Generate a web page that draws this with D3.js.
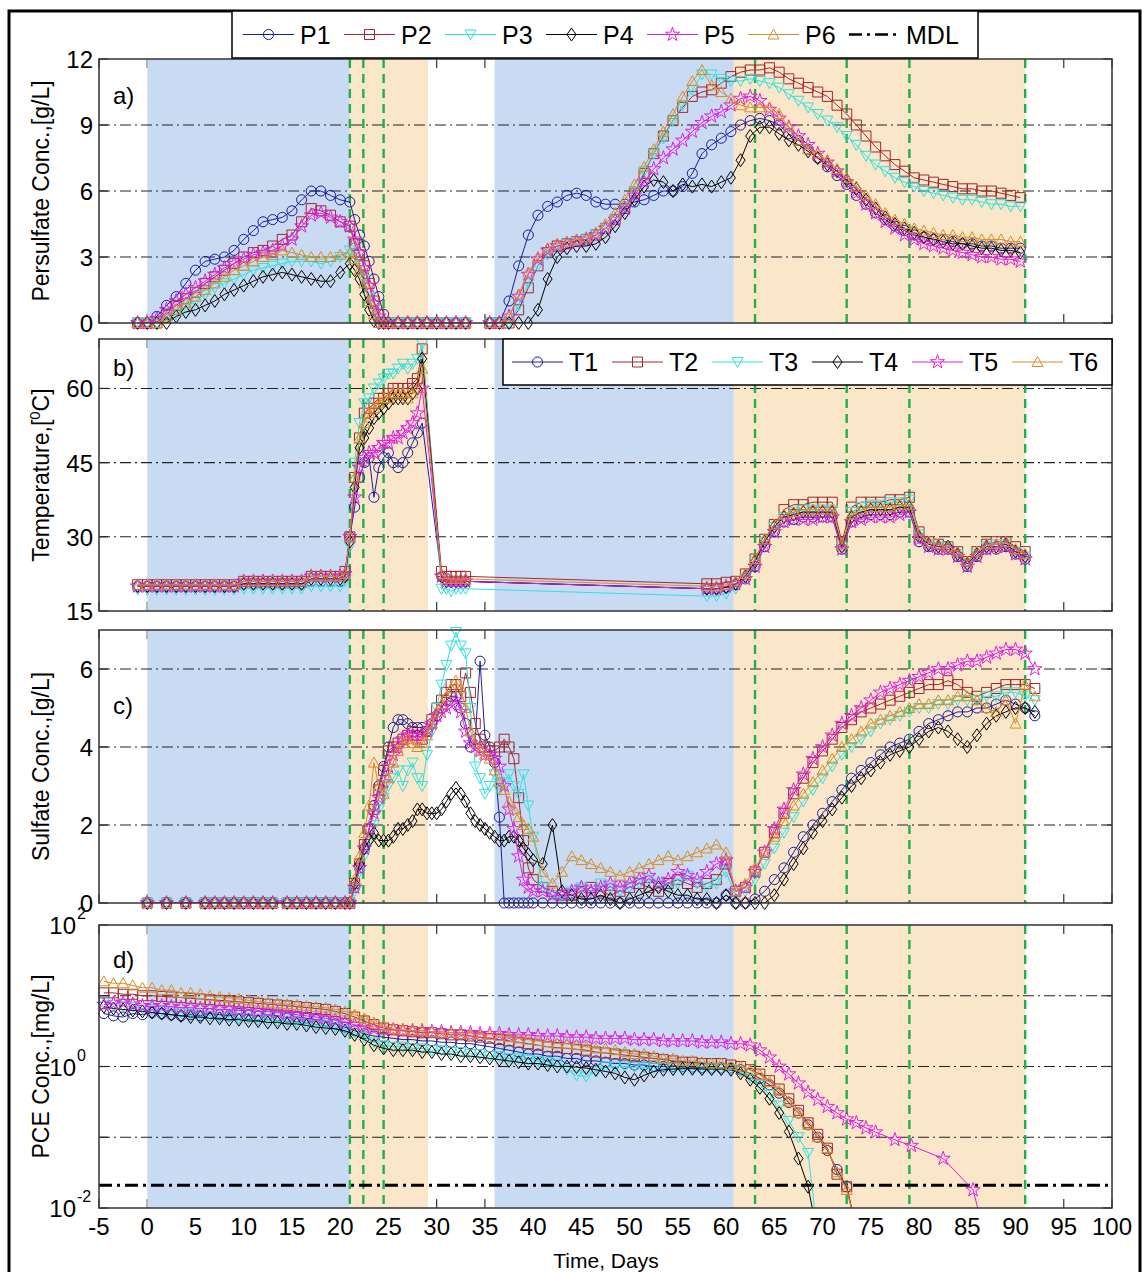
<!DOCTYPE html>
<html>
<head>
<meta charset="utf-8">
<script src="https://cdn.jsdelivr.net/npm/d3@7"></script>
<style>
  body { margin: 0; background: #fff; }
</style>
</head>
<body>
<script>
// ---- data ----
const dayTicks = [-5,0,5,10,15,20,25,30,35,40,45,50,55,60,65,70,75,80,85,90,95,100];
const blueSpans = [[0,21],[36,60.8]];
const peachSpans = [[21,29.1],[60.8,91]];
const eventDays = [21,22.4,24.5,63,72.5,79,91];
const mdl = 0.021;

// a) persulfate, g/L  (34.5 is the gap between the two runs)
const tA = [-1,0,1,2,3,4,5,6,7,8,9,10,11,12,13,14,15,16,17,18,19,20,21,21.5,22,22.5,23,23.5,24,24.5,25,26,27,28,29,30,31,32,33,34.5,
  35.5,36.5,37.5,38.5,39.5,40.5,41.5,42.5,43.5,44.5,45.5,46.5,47.5,48.5,49.5,50.5,51.5,52.5,53.5,54.5,55.5,56.5,57.5,58.5,59.5,60.5,
  61.5,62.5,63.5,64.5,65.5,66.5,67.5,68.5,69.5,70.5,71.5,72.5,73.5,74.5,75.5,76.5,77.5,78.5,79.5,80.5,81.5,82.5,83.5,84.5,85.5,86.5,87.5,88.5,89.5,90.5];
const persP1 = [0,0,0.3,0.8,1.2,1.8,2.4,2.8,2.9,3.0,3.3,3.8,4.2,4.6,4.7,4.8,5.1,5.6,6.0,6.0,5.8,5.6,5.5,4.7,4.0,3.5,2.8,2.0,1.2,0.4,0,0,0,0,0,0,0,0,0,null,
  0,0,1.0,2.6,4.0,4.9,5.3,5.5,5.8,5.9,5.8,5.5,5.4,5.4,5.4,5.5,5.6,5.8,6.0,6.0,6.2,6.8,7.7,8.1,8.4,8.7,9.0,9.2,9.3,9.2,
  9.0,8.6,8.3,7.9,7.5,7.1,6.7,6.3,5.8,5.4,5.0,4.7,4.4,4.2,4.0,3.9,3.8,3.8,3.7,3.6,3.6,3.5,3.5,3.4,3.4,3.4];
const persP2 = [0,0,0,0.4,0.8,1.1,1.4,1.8,2.1,2.4,2.7,3.0,3.2,3.3,3.5,3.8,4.0,4.6,5.2,5.1,4.9,4.6,4.4,3.6,3.1,2.6,1.8,1.0,0.4,0,0,0,0,0,0,0,0,0,0,null,
  0,0,0,0.6,1.6,2.6,3.2,3.5,3.6,3.7,3.8,4.0,4.3,4.7,5.2,5.9,6.8,7.7,8.5,9.2,9.8,10.3,10.5,10.6,10.9,11.2,11.4,11.5,11.5,11.6,
  11.4,11.1,10.9,10.7,10.5,10.3,9.9,9.5,9.0,8.5,8.0,7.6,7.2,6.9,6.6,6.5,6.4,6.3,6.2,6.1,6.1,6.0,6.0,5.9,5.8,5.7];
const persP3 = [0,0,0,0.2,0.4,0.7,1.0,1.3,1.6,1.8,2.0,2.2,2.4,2.5,2.6,2.7,2.8,2.8,2.8,2.7,2.8,3.0,3.3,3.2,2.6,2.0,1.2,0.5,0.1,0,0,0,0,0,0,0,0,0,0,null,
  0,0,0,0.8,1.8,2.6,3.1,3.4,3.6,3.7,3.8,4.0,4.3,4.7,5.3,6.0,6.9,7.7,8.4,9.2,9.9,10.6,11.3,11.3,11.1,11.0,11.0,11.1,11.0,10.9,
  10.7,10.4,10.1,9.8,9.5,9.2,8.9,8.5,8.1,7.6,7.2,6.9,6.6,6.4,6.2,6.0,5.9,5.8,5.7,5.6,5.6,5.5,5.4,5.4,5.3,5.3];
const persP4 = [0,0,0,0,0.3,0.5,0.6,0.8,1.0,1.3,1.5,1.7,1.9,2.1,2.2,2.3,2.2,2.1,2.0,1.9,1.9,2.3,2.7,2.4,2.0,1.3,0.6,0.1,0,0,0,0,0,0,0,0,0,0,0,null,
  0,0,0,0,0,0.6,2.0,3.0,3.4,3.5,3.5,3.6,3.9,4.4,5.0,5.6,6.2,6.5,6.4,6.0,6.3,6.2,6.3,6.2,6.4,6.6,7.4,8.5,8.9,8.9,
  8.6,8.3,8.1,7.8,7.5,7.2,6.9,6.5,6.1,5.6,5.2,4.8,4.5,4.3,4.1,3.9,3.8,3.7,3.6,3.6,3.5,3.4,3.4,3.3,3.3,3.2];
const persP5 = [0,0,0.2,0.6,1.0,1.3,1.6,1.9,2.2,2.5,2.7,2.9,3.1,3.2,3.3,3.5,3.8,4.4,4.9,5.0,4.8,4.6,4.4,3.8,3.2,2.5,1.7,0.9,0.3,0,0,0,0,0,0,0,0,0,0,null,
  0,0,0.3,1.2,2.2,2.9,3.3,3.5,3.6,3.7,3.8,4.0,4.3,4.7,5.2,5.8,6.4,7.0,7.5,7.9,8.3,8.7,9.1,9.4,9.6,9.9,10.2,10.3,10.1,9.7,
  9.3,8.9,8.5,8.1,7.7,7.3,6.9,6.4,5.9,5.4,5.0,4.6,4.3,4.0,3.8,3.6,3.5,3.4,3.3,3.2,3.1,3.0,3.0,2.9,2.9,2.8];
const persP6 = [0,0,0,0.3,0.6,0.9,1.2,1.5,1.8,2.1,2.4,2.6,2.8,3.0,3.1,3.3,3.2,3.1,3.0,3.0,3.0,3.1,3.2,2.9,2.4,1.8,1.0,0.4,0,0,0,0,0,0,0,0,0,0,0,null,
  0,0,0.3,1.3,2.3,3.0,3.4,3.6,3.7,3.8,3.9,4.1,4.5,5.0,5.6,6.3,7.1,7.9,8.7,9.5,10.3,11.0,11.5,10.8,10.5,10.2,9.9,9.8,9.8,9.8,
  9.5,8.9,8.3,7.9,7.7,7.4,7.0,6.6,6.2,5.8,5.4,5.0,4.7,4.5,4.3,4.2,4.1,4.0,4.0,3.9,3.9,3.8,3.8,3.8,3.7,3.7];

// b) temperature, degC
const tB = [-1,0,1,2,3,4,5,6,7,8,9,10,11,12,13,14,15,16,17,18,19,20,
  20.5,21,21.5,22,22.5,23,23.5,24,24.5,25,25.5,26,26.5,27,27.5,28,28.5,
  30.5,31,31.5,32,32.5,33,
  58,59,60,61,62,63,64,65,66,67,68,69,70,71,72,73,74,75,76,77,78,79,80,81,82,83,84,85,86,87,88,89,90,91];
const tempT1 = [20,20,20,20,20,20,20,20,20,20,20,20.5,20.5,20.5,20.5,20.5,20.5,20.5,21,21,21,21,
  22,30,36,42,45,46,38,44,46,47,45,44,45,47,49,51,53,
  22,21.5,21,21,21,21,
  19.5,19.5,19.8,20.3,21.5,24,28,31,33,33.5,34,34,34,34,27.5,33,34,34.5,34.5,34.5,35,35,29,28,27.5,27.5,26,24,26,27.5,27.5,28,26.5,25.5];
const tempT2 = [20.3,20.3,20.3,20.3,20.3,20.3,20.3,20.3,20.3,20.3,20.3,21,21,21,21,21,21,21,22,22,22,22,
  23,30,42,50,55,56,57,58,58,59,60,60,60,60,61,62,68,
  23,22,22,22,22,22,
  20.5,20.5,20.8,21,22.5,25.5,29.5,32.5,35.5,36.5,36.5,37,37,37,29,36,37,37,37,37.5,37.5,38,31,29,28.5,28,27,25,27,28.5,29,29,28,27];
const tempT3 = [19.3,19.3,19.3,19.3,19.3,19.3,19.3,19.3,19.3,19.3,19.3,19.5,19.5,19.5,19.5,19.5,19.5,19.5,20,20,20,20,
  21,28,45,53,57,58,60,61,62,63,63,64,65,64,65,66,69,
  19.5,19.5,19,19.5,19.5,19.5,
  18,18,18.5,19.5,21.5,25,29,32,34,35,35.5,35.5,35.5,35.5,28,35,36,36.5,36.5,37,37,37.5,30.5,28.5,28,28,26.5,24.5,26.5,28,28.5,28.5,27,26];
const tempT4 = [20,20,20,20,20,20,20,20,20,20,20,20.5,20.5,20.5,20.5,20.5,20.5,20.5,21.5,21.5,21.5,21.5,
  22,29,40,48,50,52,54,55,56,57,58,58,58,58,59,60,66,
  22,21,21,21,21,21,
  19.5,19.5,19.8,20.5,22,25,29,32,34,34.5,35,35,35,35,28,34,35,35.5,35.5,35.5,36,36,30,28.5,28,28,26.5,24.5,26.5,28,28,28.5,27,26];
const tempT5 = [20,20,20,20,20,20,20,20,20,20,20,21,21,21,21,21,21,21,22,22,22,22,
  22.5,30,38,44,46,47,47,48,49,49,50,50,51,52,53,55,60,
  22,21,21,21,21,21,
  19.5,19.5,20,20.5,21.5,24,28,31,33,33.5,33.5,33.5,34,34,27.5,33,33.5,34,34,34,34.5,35,29.5,28,27.5,27.5,26,24,26,27.5,28,28,26.5,25.5];
const tempT6 = [20.3,20.3,20.3,20.3,20.3,20.3,20.3,20.3,20.3,20.3,20.3,21,21,21,21,21,21,21,22,22,22,22,
  22.5,30,42,50,53,55,56,57,58,58,59,59,59,58,59,60,64,
  22.5,21.5,21.5,21.5,21.5,21.5,
  20,20,20.3,21,22.5,25.5,29.5,32.5,34.5,35,35.5,35.5,35.5,35.5,28.5,34.5,35.5,36,36,36,36.5,36.5,30.5,29,28.5,28,27,25,27,28.5,28.5,29,27.5,26.5];

// c) sulfate, g/L
const tC = [0,2,4,6,7,8,9,10,11,12,13,14.5,15.5,16.5,17.5,18.5,19.5,20.5,
  21,21.5,22,22.5,23,23.5,24,24.5,25,25.5,26,26.5,27,27.5,28,28.5,29,29.5,30,30.5,31,31.5,32,32.5,33,33.5,34,34.5,35,35.5,36,36.5,37,37.5,38,38.5,39,39.5,40,
  41,42,43,44,45,46,47,48,49,50,51,52,53,54,55,56,57,58,59,60,61,62,63,64,65,66,67,68,69,70,71,72,73,74,75,76,77,78,79,80,81,82,83,84,85,86,87,88,89,90,91,92];
const sulfS1 = [0,0,0,0,0,0,0,0,0,0,0,0,0,0,0,0,0,0,
  0,0.4,0.9,1.4,1.9,2.5,3.0,3.5,4.0,4.5,4.7,4.7,4.6,4.5,4.5,4.5,4.4,4.6,4.8,5.0,5.2,5.3,5.3,5.0,4.6,4.0,4.2,6.2,4.3,4.0,3.6,2.2,0,0,0,0,0,0,0,
  0,0,0,0,0,0,0,0,0,0,0,0,0,0,0,0,0,0,0,0.2,0,0,0.1,0.3,0.6,0.9,1.3,1.7,2.0,2.3,2.6,2.9,3.2,3.4,3.6,3.8,4.0,4.1,4.2,4.4,4.6,4.7,4.8,4.9,4.9,5.0,5.0,5.1,5.2,5.1,5.0,4.8];
const sulfS2 = [0,0,0,0,0,0,0,0,0,0,0,0,0,0,0,0,0,0,
  0,0.5,1.0,1.5,1.9,2.4,2.9,3.4,3.9,4.0,4.1,4.2,4.3,4.4,4.3,4.2,4.4,4.7,5.0,5.2,5.4,5.6,5.6,5.3,5.9,5.4,4.6,4.2,4.0,3.9,3.9,4.0,4.2,4.0,3.7,2.7,1.6,0.9,0.6,
  0.4,0.3,0.2,0.2,0.3,0.4,0.3,0.2,0.3,0.4,0.5,0.4,0.3,0.5,0.6,0.5,0.4,0.5,0.6,1.0,0.3,0.4,0.8,1.3,1.8,2.3,2.8,3.2,3.6,3.9,4.2,4.5,4.7,4.9,5.0,5.1,5.2,5.3,5.4,5.5,5.6,5.6,5.7,5.6,5.4,5.3,5.4,5.5,5.6,5.6,5.6,5.5];
const sulfS3 = [0,0,0,0,0,0,0,0,0,0,0,0,0,0,0,0,0,0,
  0,0.3,0.8,1.2,1.6,2.0,2.4,2.7,3.0,3.2,3.4,3.0,3.4,3.6,3.2,3.0,3.8,4.4,5.0,5.6,6.1,6.6,6.95,6.6,6.4,5.0,3.5,3.2,2.8,3.0,3.3,2.9,3.1,3.3,3.0,2.8,3.3,2.5,1.7,
  0.4,0.2,0.1,0.3,0.4,0.3,0.5,0.4,0.3,0.4,0.5,0.6,0.5,0.4,0.5,0.7,0.5,0.4,0.5,0.8,0.2,0.3,0.6,1.0,1.4,1.8,2.2,2.6,2.9,3.2,3.5,3.8,4.0,4.2,4.4,4.6,4.7,4.8,4.9,5.0,5.0,5.1,5.1,5.2,5.2,5.2,5.3,5.3,5.4,5.4,5.3,5.2];
const sulfS4 = [0,0,0,0,0,0,0,0,0,0,0,0,0,0,0,0,0,0,
  0,0.5,1.0,1.4,1.6,1.8,1.6,1.6,1.6,1.7,1.9,1.9,2.0,2.1,2.4,2.4,2.3,2.3,2.3,2.4,2.6,2.8,2.95,2.8,2.6,2.3,2.1,2.0,1.9,1.8,1.7,1.6,1.6,1.7,1.7,1.6,1.4,1.25,1.1,
  1.0,2.0,0.3,0.2,0.1,0.1,0.2,0.1,0,0.1,0.2,0.3,0.4,0.3,0.2,0.2,0.1,0.1,0,0.2,0,0,0,0,0.2,0.6,1.0,1.4,1.8,2.1,2.4,2.7,3.0,3.2,3.4,3.6,3.8,3.9,4.0,4.2,4.4,4.5,4.4,4.2,4.0,4.3,4.6,4.8,4.9,5.0,5.0,4.9];
const sulfS5 = [0,0,0,0,0,0,0,0,0,0,0,0,0,0,0,0,0,0,
  0,0.4,0.9,1.4,1.9,2.3,2.7,3.1,3.5,3.8,4.0,4.2,4.3,4.3,4.2,4.3,4.4,4.6,4.8,4.9,5.0,5.1,5.2,4.9,4.4,4.1,4.0,3.9,3.8,3.8,3.7,3.5,3.0,2.4,1.9,1.2,0.6,0.4,0.3,
  0.3,0.2,0.2,0.3,0.4,0.3,0.4,0.5,0.4,0.5,0.6,0.7,0.5,0.6,0.8,0.7,0.6,0.8,1.0,1.1,0.3,0.4,0.8,1.3,1.9,2.4,2.9,3.3,3.7,4.0,4.3,4.6,4.8,5.0,5.2,5.4,5.5,5.6,5.7,5.8,5.9,6.0,6.0,6.1,6.2,6.2,6.3,6.4,6.5,6.5,6.4,6.0];
const sulfS6 = [0,0,0,0,0,0,0,0,0,0,0,0,0,0,0,0,0,0,
  0,0.6,1.2,1.8,2.5,3.6,3.0,2.8,3.2,3.6,3.9,4.1,4.2,4.1,4.0,4.1,4.3,4.6,4.9,5.1,5.3,5.5,5.7,5.5,5.0,4.4,4.1,3.9,3.8,3.7,3.4,3.1,2.9,2.6,2.4,2.2,2.0,1.9,1.7,
  0.8,0.5,0.8,1.2,1.1,1.0,0.9,0.8,0.7,0.8,0.9,1.0,1.1,1.2,1.1,1.2,1.3,1.4,1.5,1.3,0.3,0.5,0.9,1.3,1.7,2.1,2.5,2.8,3.1,3.4,3.7,4.0,4.2,4.4,4.6,4.7,4.8,4.9,5.0,5.1,5.1,5.2,5.2,5.3,5.3,5.2,5.0,4.9,5.2,4.6,5.6,5.3];

// d) PCE, mg/L
const tD = [-4.5,-3.5,-2.5,-1.5,-0.5,0.5,1.5,2.5,3.5,4.5,5.5,6.5,7.5,8.5,9.5,10.5,11.5,12.5,13.5,14.5,15.5,16.5,17.5,18.5,19.5,20.5,21.5,22.5,23.5,24.5,
  25.5,26.5,27.5,28.5,29.5,30.5,31.5,32.5,33.5,34.5,35.5,36.5,37.5,38.5,39.5,40.5,41.5,42.5,43.5,44.5,45.5,46.5,47.5,48.5,49.5,50.5,51.5,52.5,53.5,54.5,
  55.5,56.5,57.5,58.5,59.5,60.5,61.5,62.5,63.5,64.5,65.5,66.5,67.5,68.5,69.5,70.5,71.5,72.5,73.5,74.5,75.5,77.5,79.2,82.5,85.6,86.5];
const pceP1 = [5.6,5.2,5.0,5.6,5.4,5.8,5.6,5.4,5.2,5.4,5.2,5.6,5.4,5.2,5.6,5.4,5.2,5.4,5.2,5.0,5.0,4.8,4.6,4.4,4.0,3.6,3.2,2.9,2.7,2.6,
  2.5,2.4,2.4,2.3,2.3,2.2,2.2,2.1,2.1,2.0,1.9,1.8,1.7,1.6,1.5,1.5,1.4,1.4,1.3,1.3,1.2,1.2,1.15,1.1,1.1,1.05,1.05,1.0,1.0,1.0,
  1.0,0.98,0.96,0.95,0.95,0.95,0.9,0.8,0.68,0.55,0.42,0.31,0.22,0.15,0.1,0.065,0.035,0.02,0.005,null,null,null,null,null,null,null];
const pceP2 = [11,11,10.5,10.5,10,10,9.8,9.6,9.4,9.2,9,8.8,8.6,8.4,8.2,8,7.8,7.6,7.4,7.2,7,6.8,6.6,6.4,6.0,5.6,5.0,4.4,3.9,3.5,
  3.3,3.2,3.1,3.0,3.0,2.9,2.8,2.8,2.7,2.6,2.5,2.4,2.3,2.2,2.1,2.0,1.9,1.85,1.8,1.75,1.7,1.6,1.55,1.5,1.45,1.4,1.35,1.3,1.25,1.2,
  1.15,1.15,1.1,1.1,1.1,1.05,1.0,0.9,0.78,0.63,0.48,0.35,0.24,0.16,0.11,0.07,0.03,0.02,0.005,null,null,null,null,null,null,null];
const pceP3 = [8,7.5,7.2,7,6.6,6.4,6.2,6.0,5.8,5.6,5.4,5.2,5.0,5.0,4.8,4.8,4.6,4.6,4.4,4.4,4.2,4.0,3.9,3.8,3.6,3.4,3.0,2.6,2.2,2.0,
  1.9,1.9,1.8,1.8,1.7,1.7,1.6,1.6,1.5,1.5,1.4,1.4,1.3,1.3,1.25,1.2,1.15,1.1,0.9,0.75,0.72,0.85,1.0,1.0,1.0,0.98,0.97,0.96,0.95,0.95,
  0.94,0.94,0.93,0.93,0.92,0.92,0.85,0.7,0.55,0.4,0.28,0.17,0.1,0.06,0.004,null,null,null,null,null,null,null,null,null,null,null];
const pceP4 = [7,6.6,6.4,6.2,6.0,5.8,5.6,5.4,5.2,5.0,5.0,4.8,4.8,4.6,4.6,4.4,4.4,4.2,4.2,4.0,4.0,3.8,3.6,3.5,3.4,3.2,2.8,2.4,2.0,1.8,
  1.7,1.7,1.7,1.6,1.6,1.5,1.5,1.4,1.4,1.35,1.3,1.25,1.2,1.15,1.1,1.1,1.05,1.0,1.0,0.98,0.95,0.9,0.85,0.8,0.7,0.65,0.75,0.85,0.9,0.92,
  0.93,0.93,0.92,0.92,0.92,0.9,0.8,0.65,0.5,0.35,0.22,0.12,0.05,0.02,0.004,null,null,null,null,null,null,null,null,null,null,null];
const pceP5 = [7.5,7.8,8,7.6,7.2,7,7.2,7,6.8,6.8,6.6,6.6,6.4,6.4,6.2,6.2,6,6,5.8,5.6,5.4,5.2,5,4.8,4.5,4.2,3.9,3.6,3.4,3.3,
  3.3,3.2,3.2,3.2,3.1,3.1,3.0,3.0,3.0,2.9,2.9,2.9,2.8,2.8,2.8,2.7,2.7,2.7,2.6,2.6,2.6,2.5,2.5,2.5,2.5,2.4,2.4,2.4,2.3,2.3,
  2.3,2.3,2.2,2.2,2.2,2.1,2.1,2.0,1.7,1.35,1.0,0.78,0.58,0.43,0.34,0.27,0.22,0.18,0.16,0.135,0.118,0.092,0.076,0.05,0.018,0.006];
const pceP6 = [16,15,15,14,13,13,12,12,11,11,10.5,10,9.6,9.3,9,8.6,8.3,8,7.8,7.6,7.4,7.2,7,6.8,6.4,6,5.4,4.8,4.2,3.7,
  3.4,3.3,3.2,3.2,3.1,3.0,3.0,2.9,2.9,2.8,2.8,2.7,2.6,2.5,2.4,2.3,2.2,2.1,2.1,2.0,1.9,1.8,1.8,1.7,1.6,1.5,1.5,1.4,1.3,1.3,
  1.2,1.2,1.15,1.1,1.1,1.05,1.0,0.89,0.76,0.6,0.45,0.32,0.22,0.15,0.1,0.07,0.032,0.018,0.005,null,null,null,null,null,null,null];

// ---- drawing ----
const FONT = "'Liberation Sans', Arial, Helvetica, sans-serif";
const svg = d3.select('body').append('svg')
  .attr('width', 1142).attr('height', 1272)
  .style('font-family', FONT);

const styles = [
  {color: '#1c1c9c', shape: 'circle'},
  {color: '#a3262e', shape: 'square'},
  {color: '#2fe0e0', shape: 'tridown'},
  {color: '#000000', shape: 'diamond'},
  {color: '#e01ee0', shape: 'star'},
  {color: '#d98c26', shape: 'triup'}
];

function markerPath(shape) {
  if (shape === 'circle') return d3.symbol(d3.symbolCircle, 80)();
  if (shape === 'square') return 'M-5,-5H5V5H-5Z';
  if (shape === 'tridown') return 'M-5.5,-4.5L5.5,-4.5L0,5.5Z';
  if (shape === 'triup') return 'M0,-5.5L5.5,4.5L-5.5,4.5Z';
  if (shape === 'diamond') return 'M0,-6.5L4.5,0L0,6.5L-4.5,0Z';
  return d3.symbol(d3.symbolStar, 62)();
}

let x = d3.scaleLinear().domain([-5, 100]).range([99, 1112]);
const left = 99, right = 1112;

let panels = [
  {top: 59, bottom: 323, y: d3.scaleLinear().domain([0, 12]), ticks: [0,3,6,9,12], grid: [3,6,9],
   t: tA, series: [persP1, persP2, persP3, persP4, persP5, persP6], label: 'a)', labelY: 104, title: 'Persulfate Conc.,[g/L]'},
  {top: 339, bottom: 611, y: d3.scaleLinear().domain([15, 70]), ticks: [15,30,45,60], grid: [30,45,60],
   t: tB, series: [tempT1, tempT2, tempT3, tempT4, tempT5, tempT6], label: 'b)', labelY: 376, title: 'Temperature,['},
  {top: 630, bottom: 903, y: d3.scaleLinear().domain([0, 7]), ticks: [0,2,4,6], grid: [2,4,6],
   t: tC, series: [sulfS1, sulfS2, sulfS3, sulfS4, sulfS5, sulfS6], label: 'c)', labelY: 714, title: 'Sulfate Conc.,[g/L]'},
  {top: 925, bottom: 1208, y: d3.scaleLog().domain([0.01, 100]), ticks: [0.01,0.1,1,10,100], grid: [0.1,1,10],
   t: tD, series: [pceP1, pceP2, pceP3, pceP4, pceP5, pceP6], label: 'd)', labelY: 968, title: 'PCE Conc.,[mg/L]', log: true}
];

let defs = svg.append('defs');

panels.forEach(function(p, pi) {
  p.y.range([p.bottom, p.top]);
  let g = svg.append('g');
  let h = p.bottom - p.top;

  defs.append('clipPath').attr('id', 'clipL' + pi)
    .append('rect').attr('x', left).attr('y', p.top).attr('width', right - left).attr('height', h);
  defs.append('clipPath').attr('id', 'clipM' + pi)
    .append('rect').attr('x', left - 7).attr('y', p.top - 7).attr('width', right - left + 14).attr('height', h + 14);

  // inward ticks (they end up under the shaded phases, as in the original)
  dayTicks.forEach(function(d) {
    g.append('line').attr('x1', x(d)).attr('x2', x(d)).attr('y1', p.top).attr('y2', p.top + 9)
      .attr('stroke', '#333').attr('stroke-width', 1.2);
    g.append('line').attr('x1', x(d)).attr('x2', x(d)).attr('y1', p.bottom).attr('y2', p.bottom - 9)
      .attr('stroke', '#333').attr('stroke-width', 1.2);
  });

  // phase shading
  blueSpans.forEach(function(s) {
    g.append('rect').attr('x', x(s[0])).attr('y', p.top).attr('width', x(s[1]) - x(s[0])).attr('height', h)
      .attr('fill', '#c9dbf2');
  });
  peachSpans.forEach(function(s) {
    g.append('rect').attr('x', x(s[0])).attr('y', p.top).attr('width', x(s[1]) - x(s[0])).attr('height', h)
      .attr('fill', '#fae6c9');
  });

  p.ticks.forEach(function(v) {
    g.append('line').attr('x1', left).attr('x2', left + 9).attr('y1', p.y(v)).attr('y2', p.y(v))
      .attr('stroke', '#333').attr('stroke-width', 1.2);
    g.append('line').attr('x1', right).attr('x2', right - 9).attr('y1', p.y(v)).attr('y2', p.y(v))
      .attr('stroke', '#333').attr('stroke-width', 1.2);
  });

  // dash-dot grid
  p.grid.forEach(function(v) {
    g.append('line').attr('x1', left).attr('x2', right).attr('y1', p.y(v)).attr('y2', p.y(v))
      .attr('stroke', '#222').attr('stroke-width', 1.1).attr('stroke-dasharray', '11,4,2,4');
  });

  // event lines
  eventDays.forEach(function(d) {
    g.append('line').attr('x1', x(d)).attr('x2', x(d)).attr('y1', p.top).attr('y2', p.bottom)
      .attr('stroke', '#1fb04a').attr('stroke-width', 2.4).attr('stroke-dasharray', '9,6');
  });

  if (p.log) {
    g.append('line').attr('x1', left).attr('x2', right).attr('y1', p.y(mdl)).attr('y2', p.y(mdl))
      .attr('stroke', '#000').attr('stroke-width', 3).attr('stroke-dasharray', '13,5,3,5');
  }

  // series
  p.series.forEach(function(vals, si) {
    let st = styles[si];
    let pts = p.t.map(function(t, i) { return {t: t, v: vals[i]}; });
    let line = d3.line()
      .defined(function(d) { return d.v != null; })
      .x(function(d) { return x(d.t); })
      .y(function(d) { return p.y(d.v); });
    g.append('path').attr('d', line(pts))
      .attr('fill', 'none').attr('stroke', st.color).attr('stroke-width', 1)
      .attr('clip-path', 'url(#clipL' + pi + ')');
    g.append('g').attr('clip-path', 'url(#clipM' + pi + ')')
      .selectAll('path')
      .data(pts.filter(function(d) { return d.v != null; }))
      .enter().append('path')
      .attr('d', markerPath(st.shape))
      .attr('transform', function(d) { return 'translate(' + x(d.t) + ',' + p.y(d.v) + ')'; })
      .attr('fill', 'none').attr('stroke', st.color).attr('stroke-width', 1);
  });

  // frame
  g.append('rect').attr('x', left).attr('y', p.top).attr('width', right - left).attr('height', h)
    .attr('fill', 'none').attr('stroke', '#333').attr('stroke-width', 1.5);

  // y tick labels
  p.ticks.forEach(function(v) {
    if (p.log) {
      if (v !== 0.01 && v !== 1 && v !== 100) return;
      let e = Math.round(Math.log10(v));
      g.append('text').attr('x', 76).attr('y', p.y(v) + 9).attr('text-anchor', 'end')
        .attr('font-size', 24).text('10');
      g.append('text').attr('x', 77).attr('y', p.y(v) - 6).attr('text-anchor', 'start')
        .attr('font-size', 16).text(e);
    } else {
      g.append('text').attr('x', 93).attr('y', p.y(v) + 9).attr('text-anchor', 'end')
        .attr('font-size', 24).text(v);
    }
  });

  // panel label
  g.append('text').attr('x', 113).attr('y', p.labelY).attr('font-size', 24).text(p.label);

  // y title
  let cy = (p.top + p.bottom) / 2;
  let tt = g.append('text').attr('transform', 'translate(49,' + cy + ') rotate(-90)')
    .attr('text-anchor', 'middle').attr('font-size', 23);
  if (pi === 1) {
    tt.append('tspan').text('Temperature,[');
    tt.append('tspan').attr('font-size', 15).attr('dy', -9).text('0');
    tt.append('tspan').attr('dy', 9).text('C]');
  } else {
    tt.text(p.title);
  }
});

// x tick labels and title (bottom panel only)
dayTicks.forEach(function(d) {
  svg.append('text').attr('x', x(d)).attr('y', 1235).attr('text-anchor', 'middle')
    .attr('font-size', 24).text(d);
});
svg.append('text').attr('x', 606).attr('y', 1268).attr('text-anchor', 'middle')
  .attr('font-size', 21).text('Time, Days');

// outer frame
svg.append('path').attr('d', 'M9,1272V11H1140V1272')
  .attr('fill', 'none').attr('stroke', '#000').attr('stroke-width', 3);

// legends
function legend(names, bx, by, bw, bh, x0, step) {
  let g = svg.append('g');
  g.append('rect').attr('x', bx).attr('y', by).attr('width', bw).attr('height', bh)
    .attr('fill', '#fff').attr('stroke', '#000').attr('stroke-width', 1.5);
  let cy = by + bh / 2;
  names.forEach(function(n, i) {
    let lx = x0 + i * step;
    if (i < styles.length) {
      let st = styles[i];
      g.append('line').attr('x1', lx).attr('x2', lx + 51).attr('y1', cy).attr('y2', cy)
        .attr('stroke', st.color).attr('stroke-width', 1);
      g.append('path').attr('d', markerPath(st.shape)).attr('transform', 'translate(' + (lx + 25.5) + ',' + cy + ')')
        .attr('fill', 'none').attr('stroke', st.color).attr('stroke-width', 1);
    } else {
      g.append('line').attr('x1', lx).attr('x2', lx + 51).attr('y1', cy).attr('y2', cy)
        .attr('stroke', '#000').attr('stroke-width', 2.5).attr('stroke-dasharray', '13,5,3,5');
    }
    g.append('text').attr('x', lx + 57).attr('y', cy + 9).attr('font-size', 25).text(n);
  });
}
legend(['P1','P2','P3','P4','P5','P6','MDL'], 232, 11, 746, 47, 243, 101);
legend(['T1','T2','T3','T4','T5','T6'], 503, 339, 609, 46, 512, 100);
</script>
</body>
</html>
